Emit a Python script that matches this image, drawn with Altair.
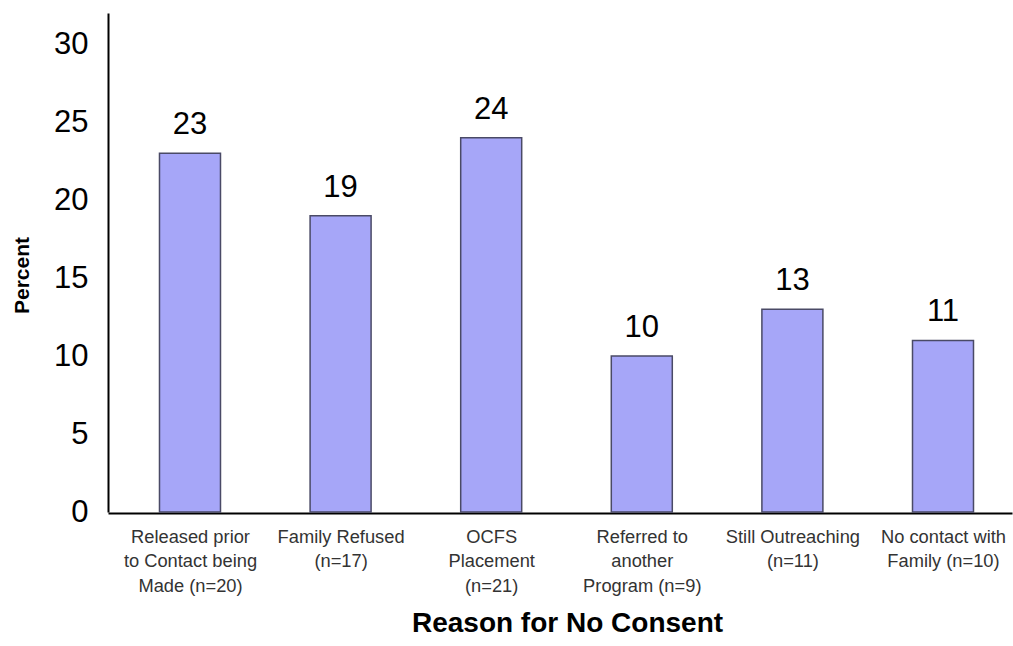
import altair as alt
import pandas as pd

categories = [
    "Released prior|to Contact being|Made (n=20)",
    "Family Refused|(n=17)",
    "OCFS|Placement|(n=21)",
    "Referred to|another|Program (n=9)",
    "Still Outreaching|(n=11)",
    "No contact with|Family (n=10)",
]
percent = [23, 19, 24, 10, 13, 11]

df = pd.DataFrame({"reason": categories, "pct": percent})

FONT = "Liberation Sans"

x_scale = alt.Scale(type="point", padding=0.5013, align=0.543)

x_enc = alt.X(
    "reason:N",
    sort=categories,
    scale=x_scale,
    axis=alt.Axis(
        title="Reason for No Consent",
        titleFont=FONT,
        titleFontSize=28,
        titleFontWeight="bold",
        titleColor="black",
        titleX=459,
        titleY=118,
        titleBaseline="alphabetic",
        labelExpr="split(datum.label, '|')",
        labelFont=FONT,
        labelFontSize=18.3,
        labelColor="#333333",
        labelLineHeight=24.5,
        labelAngle=0,
        labelPadding=15,
        labelBaseline="top",
        ticks=False,
        domainColor="black",
        domainWidth=2,
        offset=1,
    ),
)

y_enc = alt.Y(
    "pct:Q",
    scale=alt.Scale(domain=[0, 32], nice=False),
    axis=alt.Axis(
        title="Percent",
        titleFont=FONT,
        titleFontSize=21,
        titleFontWeight="bold",
        titleColor="black",
        titleX=-86,
        titleY=262,
        titleAngle=270,
        titleBaseline="middle",
        values=[0, 5, 10, 15, 20, 25, 30],
        labelFont=FONT,
        labelFontSize=31,
        labelColor="black",
        labelPadding=20,
        ticks=False,
        grid=False,
        domainColor="black",
        domainWidth=2,
    ),
)

bars = alt.Chart(df).mark_bar(
    size=61, color="#a6a6f8", stroke="#4a4a66", strokeWidth=1.5
).encode(x=x_enc, y=y_enc)

labels = alt.Chart(df).mark_text(
    font=FONT, fontSize=31, color="black", baseline="alphabetic", dy=-19
).encode(
    x=alt.X("reason:N", sort=categories),
    y=alt.Y("pct:Q"),
    text=alt.Text("pct:Q"),
)

chart = (
    alt.layer(bars, labels)
    .properties(
        width=904,
        height=499,
        autosize=alt.AutoSizeParams(type="none"),
        padding={"left": 108, "top": 13, "right": 1, "bottom": 134},
        background="white",
    )
    .configure_view(stroke=None)
)

chart.save("out.html", embed_options={"renderer": "svg", "actions": False})
